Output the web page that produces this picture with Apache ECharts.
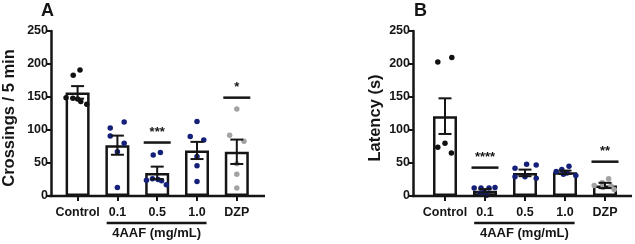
<!DOCTYPE html>
<html>
<head>
<meta charset="utf-8">
<script src="https://cdn.jsdelivr.net/npm/echarts/dist/echarts.min.js"></script>
<style>
html,body{margin:0;padding:0;background:#fff;}
#chart{width:635px;height:244px;}
</style>
</head>
<body>
<div id="chart"></div>
<script>
// categories and group label
var categories = ['Control', '0.1', '0.5', '1.0', 'DZP'];
var groupName = '4AAF (mg/mL)';
var groupCats = [1, 3];

// panel A: crossings / 5 min
var crossMean = [157, 77, 35, 69, 67];
var crossSem = [9.5, 14.5, 9.5, 13, 18.5];
var crossPoints = [
	[191, 183, 149, 148, 147, 143, 139],
	[112, 103, 91, 80, 67, 13],
	[66, 62, 26, 24, 25, 23, 17],
	[113, 90, 85, 60, 46, 22],
	[132, 92, 83, 49, 33, 12]
];
var crossJitter = [
	[0.06, -0.11, -0.29, -0.12, 0, 0.08, 0.23],
	[0.17, -0.18, -0.18, 0.17, 0, 0],
	[0.08, -0.1, -0.12, -0.27, 0.02, 0.11, 0.23],
	[0, -0.17, 0.17, 0, 0, 0],
	[0, -0.18, 0.18, 0, 0, 0]
];
var crossSigCat = [2, 4];
var crossSigValue = [81, 149];
var crossSigText = ['***', '*'];

// panel B: latency (s)
var latMean = [121, 8, 35, 36, 16];
var latSem = [27, 2.5, 5, 2.5, 4];
var latPoints = [
	[210, 203, 80, 74, 65],
	[12, 12, 12, 13, 4, 1, 6],
	[48, 47, 42, 29, 29, 27],
	[45, 40, 37, 35, 33, 31],
	[26, 20, 16, 15, 13, 10]
];
var latJitter = [
	[0.17, -0.18, 0, -0.18, 0.16],
	[-0.27, -0.1, 0.1, 0.25, -0.12, 0.04, -0.02],
	[0.04, 0.28, -0.25, -0.25, 0, 0.28],
	[0.1, -0.08, -0.22, 0.05, -0.04, 0.27],
	[0.09, -0.07, -0.27, 0.15, -0.05, 0.23]
];
var latSigCat = [1, 4];
var latSigValue = [43, 52];
var latSigText = ['****', '**'];

var yTicks = [0, 250, 50];

var FONT = '"Liberation Sans", Arial, sans-serif';
var INK = '#151515';
var groupColors = ['#111111', '#14207a', '#14207a', '#14207a', '#a3a3a3'];

// layout of the two panels
var panels = [
	{left: 56.7, width: 200, axisX: 50, lineEnd: 265, name: 'Crossings / 5 min', nameGap: 33, letter: 'A', letterX: 41},
	{left: 425, width: 200, axisX: 413, lineEnd: 632, name: 'Latency (s)', nameGap: 29, letter: 'B', letterX: 414}
];
var TOP = 31, HEIGHT = 165;

function scatterData(points, jitter, cat){
	var out = [];
	for(var i=0;i<points[cat].length;i++){
		out.push([cat + jitter[cat][i], points[cat][i]]);
	}
	return out;
}

// mean +/- SEM
function errorItem(params, api){
	var x = api.value(0), m = api.value(1), s = api.value(2);
	var top = api.coord([x, m + s]);
	var bot = api.coord([x, m - s]);
	var hw = 6.5;
	var st = {stroke: INK, lineWidth: 2};
	return {type: 'group', children: [
		{type: 'line', shape: {x1: top[0], y1: top[1], x2: bot[0], y2: bot[1]}, style: st},
		{type: 'line', shape: {x1: top[0]-hw, y1: top[1], x2: top[0]+hw, y2: top[1]}, style: st},
		{type: 'line', shape: {x1: bot[0]-hw, y1: bot[1], x2: bot[0]+hw, y2: bot[1]}, style: st}
	]};
}

// significance bar + stars
function sigItem(params, api){
	var p = api.coord([api.value(0), api.value(1)]);
	var label = sigTexts[params.seriesIndex][params.dataIndex];
	var hw = 13.5;
	return {type: 'group', children: [
		{type: 'line', shape: {x1: p[0]-hw, y1: p[1], x2: p[0]+hw, y2: p[1]}, style: {stroke: INK, lineWidth: 2.5}},
		{type: 'text', x: p[0], y: p[1]-4, style: {text: label, textAlign: 'center', textVerticalAlign: 'bottom', font: 'bold 13px ' + FONT, fill: INK}}
	]};
}

var sigTexts = {};
var option = {
	backgroundColor: '#fff',
	animation: false,
	grid: [], xAxis: [], yAxis: [], series: [], graphic: []
};

var sets = [
	{mean: crossMean, sem: crossSem, points: crossPoints, jitter: crossJitter, sigCat: crossSigCat, sigValue: crossSigValue, sigText: crossSigText},
	{mean: latMean, sem: latSem, points: latPoints, jitter: latJitter, sigCat: latSigCat, sigValue: latSigValue, sigText: latSigText}
];

for(var p=0;p<2;p++){
	var pl = panels[p], d = sets[p];
	option.grid.push({left: pl.left, width: pl.width, top: TOP, height: HEIGHT});
	option.xAxis.push({
		type: 'category', gridIndex: p, data: categories,
		axisLine: {show: false, onZero: false},
		axisTick: {show: true, alignWithLabel: true, length: 5, lineStyle: {color: INK, width: 2}},
		axisLabel: {interval: 0, color: INK, fontFamily: FONT, fontWeight: 'bold', fontSize: 12.5, margin: 10}
	});
	option.xAxis.push({type: 'value', gridIndex: p, min: -0.5, max: 4.5, show: false, axisLine: {onZero: false}});
	option.yAxis.push({
		type: 'value', gridIndex: p, min: yTicks[0], max: yTicks[1], interval: yTicks[2],
		offset: pl.left - pl.axisX,
		name: pl.name, nameLocation: 'middle', nameGap: pl.nameGap,
		nameTextStyle: {color: INK, fontFamily: FONT, fontWeight: 'bold', fontSize: 16.5, padding: [0, 9, 0, 0]},
		axisLine: {show: true, onZero: false, lineStyle: {color: INK, width: 2.5}},
		axisTick: {show: true, length: 5, lineStyle: {color: INK, width: 2}},
		axisLabel: {color: INK, fontFamily: FONT, fontWeight: 'bold', fontSize: 12.5, margin: 3},
		splitLine: {show: false}
	});
	var xa = p*2, xv = p*2+1;
	option.series.push({
		type: 'bar', xAxisIndex: xa, yAxisIndex: p, data: d.mean, barWidth: 24, z: 2,
		itemStyle: {color: '#fff', borderColor: INK, borderWidth: 2.5}
	});
	for(var c=0;c<categories.length;c++){
		option.series.push({
			type: 'scatter', xAxisIndex: xv, yAxisIndex: p, z: 3,
			symbolSize: 5.5, itemStyle: {color: groupColors[c], opacity: 1},
			data: scatterData(d.points, d.jitter, c)
		});
	}
	var errData = [];
	for(var c=0;c<categories.length;c++) errData.push([c, d.mean[c], d.sem[c]]);
	option.series.push({
		type: 'custom', xAxisIndex: xv, yAxisIndex: p, z: 4,
		encode: {x: 0, y: 1}, renderItem: errorItem, data: errData
	});
	var sigData = [];
	for(var k=0;k<d.sigCat.length;k++) sigData.push([d.sigCat[k], d.sigValue[k]]);
	sigTexts[option.series.length] = d.sigText;
	option.series.push({
		type: 'custom', xAxisIndex: xv, yAxisIndex: p, z: 4,
		encode: {x: 0, y: 1}, renderItem: sigItem, data: sigData
	});
	// panel letter
	option.graphic.push({type: 'text', left: pl.letterX, top: 2,
		style: {text: pl.letter, font: 'bold 18px ' + FONT, fill: INK}});
}

var myChart = echarts.init(document.getElementById('chart'));
myChart.setOption(option);

// x axis baseline and group bracket, positioned from the axes
var extra = [];
for(var p=0;p<2;p++){
	var pl = panels[p];
	var y0 = myChart.convertToPixel({yAxisIndex: p}, 0);
	extra.push({type: 'line', z: 5, shape: {x1: pl.axisX - 1.2, y1: y0, x2: pl.lineEnd, y2: y0},
		style: {stroke: INK, lineWidth: 2.5}});
	var g1 = myChart.convertToPixel({xAxisIndex: p*2+1}, groupCats[0] - 0.27);
	var g2 = myChart.convertToPixel({xAxisIndex: p*2+1}, groupCats[1] + 0.24);
	extra.push({type: 'line', z: 5, shape: {x1: g1, y1: y0 + 27, x2: g2, y2: y0 + 27},
		style: {stroke: INK, lineWidth: 2.5}});
	extra.push({type: 'text', z: 5, x: (g1 + g2) / 2, y: y0 + 37,
		style: {text: groupName, textAlign: 'center', textVerticalAlign: 'middle', font: 'bold 13px ' + FONT, fill: INK}});
}
myChart.setOption({graphic: option.graphic.concat(extra)});
</script>
</body>
</html>
